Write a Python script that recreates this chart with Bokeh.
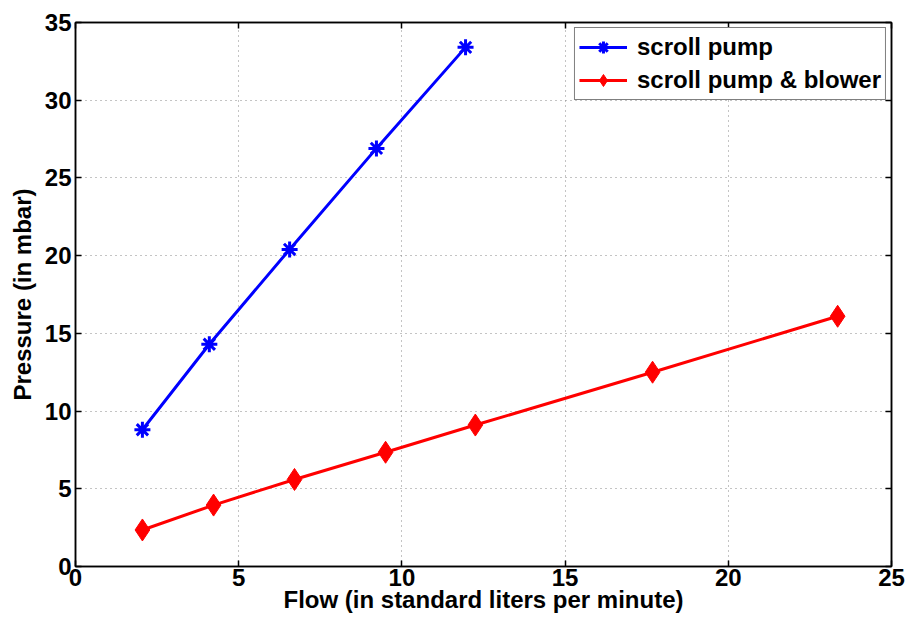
from bokeh.plotting import figure
from bokeh.models import Range1d, LinearAxis, Legend, LegendItem, FixedTicker
from bokeh.embed import file_html
from bokeh.resources import INLINE

flow_scroll = [2.05, 4.1, 6.56, 9.22, 11.95]
pressure_scroll = [8.8, 14.3, 20.4, 26.9, 33.4]
flow_blower = [2.05, 4.23, 6.71, 9.5, 12.25, 17.68, 23.35]
pressure_blower = [2.35, 3.95, 5.6, 7.35, 9.1, 12.5, 16.1]
x_ticks = [0, 5, 10, 15, 20, 25]
y_ticks = [0, 5, 10, 15, 20, 25, 30, 35]

FONT = "Liberation Sans"
FS = "24px"

p = figure(width=907, height=623, output_backend="svg", toolbar_location=None,
           x_range=Range1d(0, 25), y_range=Range1d(0, 35),
           min_border_left=75, min_border_right=16, min_border_top=22, min_border_bottom=57)
p.outline_line_color = "black"
p.outline_line_width = 1.5

for ax in (p.xaxis[0], p.yaxis[0]):
    ax.major_label_text_font = FONT
    ax.major_label_text_font_style = "bold"
    ax.major_label_text_font_size = FS
    ax.major_label_text_color = "black"
    ax.axis_label_text_font = FONT
    ax.axis_label_text_font_style = "bold"
    ax.axis_label_text_font_size = FS
    ax.axis_label_text_color = "black"
    ax.major_tick_in = 6
    ax.major_tick_out = 0
    ax.minor_tick_in = 0
    ax.minor_tick_out = 0
    ax.axis_line_color = "black"
    ax.axis_line_width = 1.5
    ax.major_tick_line_width = 1.5

p.xaxis[0].ticker = FixedTicker(ticks=x_ticks)
p.yaxis[0].ticker = FixedTicker(ticks=y_ticks)
p.xaxis[0].axis_label = "Flow (in standard liters per minute)"
p.yaxis[0].axis_label = "Pressure (in mbar)"
p.xaxis[0].major_label_standoff = 2
p.xaxis[0].axis_label_standoff = -3
p.yaxis[0].major_label_standoff = 4
p.yaxis[0].axis_label_standoff = 6

for loc, ticks in (("above", x_ticks), ("right", y_ticks)):
    ax = LinearAxis(ticker=FixedTicker(ticks=ticks))
    ax.major_label_overrides = {t: "" for t in ticks}
    ax.major_label_text_font_size = "1px"
    ax.major_label_standoff = 0
    ax.major_tick_in = 6
    ax.major_tick_out = 0
    ax.minor_tick_in = 0
    ax.minor_tick_out = 0
    ax.axis_line_color = "black"
    ax.axis_line_width = 1.5
    ax.major_tick_line_width = 1.5
    p.add_layout(ax, loc)

p.xgrid.ticker = FixedTicker(ticks=x_ticks)
p.ygrid.ticker = FixedTicker(ticks=y_ticks)
for g in (p.xgrid[0], p.ygrid[0]):
    g.grid_line_color = "#888888"
    g.grid_line_dash = "1 4"
    g.grid_line_width = 1

l1 = p.line(flow_scroll, pressure_scroll, line_color="blue", line_width=3)
m1 = p.scatter(flow_scroll, pressure_scroll, marker="asterisk", size=16, line_color="blue", line_width=3)
l2 = p.line(flow_blower, pressure_blower, line_color="red", line_width=3)
m2 = p.scatter(flow_blower, pressure_blower, marker="diamond", size=22, fill_color="red", line_color="red")

legend = Legend(items=[LegendItem(label="scroll pump", renderers=[l1, m1]),
                       LegendItem(label="scroll pump & blower", renderers=[l2, m2])],
                location="top_right")
legend.label_text_font = FONT
legend.label_text_font_style = "bold"
legend.label_text_font_size = FS
legend.label_text_color = "black"
legend.border_line_color = "black"
legend.border_line_width = 1.5
legend.glyph_width = 48
legend.glyph_height = 30
legend.label_standoff = 10
legend.spacing = 3
legend.padding = 4
legend.margin = 5
legend.background_fill_alpha = 1
p.add_layout(legend)

open("out.html", "w").write(file_html(p, INLINE))
